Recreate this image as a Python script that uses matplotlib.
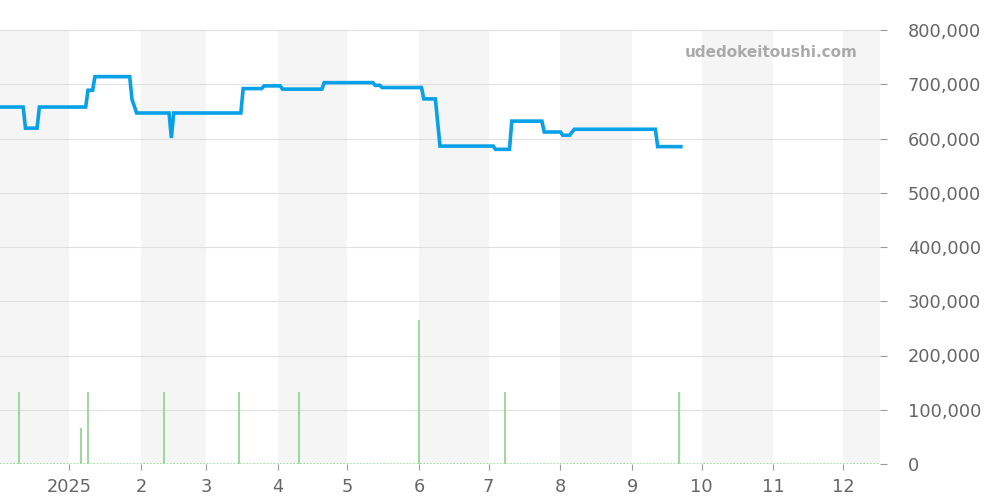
import datetime as dt
import matplotlib
matplotlib.use("Agg")
import matplotlib.pyplot as plt
import matplotlib.dates as mdates
from matplotlib.ticker import FuncFormatter

# price line (date, yen)
price_dates = [
    "2024-12-02", "2024-12-12", "2024-12-13", "2024-12-18", "2024-12-19",
    "2025-01-08", "2025-01-09", "2025-01-11", "2025-01-12", "2025-01-27",
    "2025-01-28", "2025-01-30", "2025-02-13", "2025-02-14", "2025-02-15",
    "2025-03-16", "2025-03-17", "2025-03-25", "2025-03-26", "2025-04-02",
    "2025-04-03", "2025-04-20", "2025-04-21", "2025-05-12", "2025-05-13",
    "2025-05-15", "2025-05-16", "2025-06-02", "2025-06-03", "2025-06-08",
    "2025-06-10", "2025-07-03", "2025-07-04", "2025-07-10", "2025-07-11",
    "2025-07-24", "2025-07-25", "2025-08-01", "2025-08-02", "2025-08-05",
    "2025-08-07", "2025-09-11", "2025-09-12", "2025-09-22",
]
prices = [
    658000, 658000, 619000, 619000, 658000,
    658000, 689000, 689000, 714000, 714000,
    672000, 647000, 647000, 601000, 647000,
    647000, 692000, 692000, 697000, 697000,
    691000, 691000, 703000, 703000, 698000,
    698000, 694000, 694000, 673000, 673000,
    586000, 586000, 580000, 580000, 632000,
    632000, 612000, 612000, 606000, 606000,
    617000, 617000, 585000, 585000,
]

# volume bars
vol_dates = ["2024-12-10", "2025-01-06", "2025-01-09", "2025-02-11", "2025-03-15",
             "2025-04-10", "2025-06-01", "2025-07-08", "2025-09-21"]
volumes = [133000, 66500, 133000, 133000, 133000, 133000, 266000, 133000, 133000]

x_start = dt.date(2024, 12, 2)
x_end = dt.date(2025, 12, 17)
y_max = 800000

def to_date(s):
    return dt.datetime.strptime(s, "%Y-%m-%d").date()

pd_ = [to_date(s) for s in price_dates]
vd_ = [to_date(s) for s in vol_dates]

fig = plt.figure(figsize=(10, 5), dpi=100)
ax = fig.add_axes([0.0, 0.072, 0.88, 0.868])

# month bands, even months shaded
months = [dt.date(2024, 12, 1)] + [dt.date(2025, m, 1) for m in range(1, 13)] + [dt.date(2026, 1, 1)]
for i in range(len(months) - 1):
    if months[i].month % 2 == 0:
        ax.axvspan(months[i], months[i + 1], color="#f5f5f5", lw=0, zorder=0)

for v in range(0, y_max + 1, 100000):
    ax.axhline(v, color="#e0e0e0", lw=0.8, zorder=1)

ax.axhline(0, color="#9fd9a0", lw=1.2, ls=(0, (1, 1)), zorder=2)
ax.vlines(vd_, 0, volumes, color="#9fd9a0", lw=1.5, zorder=2)
ax.plot(pd_, prices, color="#08a0e6", lw=2.6, zorder=3, solid_joinstyle="miter")

ax.set_xlim(x_start, x_end)
ax.set_ylim(0, y_max)

ax.yaxis.tick_right()
ax.set_yticks(range(0, y_max + 1, 100000))
ax.yaxis.set_major_formatter(FuncFormatter(lambda v, p: f"{int(v):,}"))
ax.set_xticks(months[1:13])
ax.xaxis.set_major_formatter(FuncFormatter(
    lambda v, p: "2025" if mdates.num2date(v).month == 1 else str(mdates.num2date(v).month)))

ax.tick_params(axis="y", length=5, color="#999999", labelcolor="#666666", labelsize=12.8, pad=15)
ax.tick_params(axis="x", length=4, color="#999999", labelcolor="#666666", labelsize=12.8, pad=6)
for lab in ax.get_yticklabels():
    lab.set_horizontalalignment("left")
for s in ax.spines.values():
    s.set_visible(False)

ax.text(0.975, 0.949, "udedokeitoushi.com", transform=ax.transAxes, ha="right", va="center",
        fontsize=11, fontweight="bold", color="#aaaaaa")

fig.savefig("out.png", dpi=100)
